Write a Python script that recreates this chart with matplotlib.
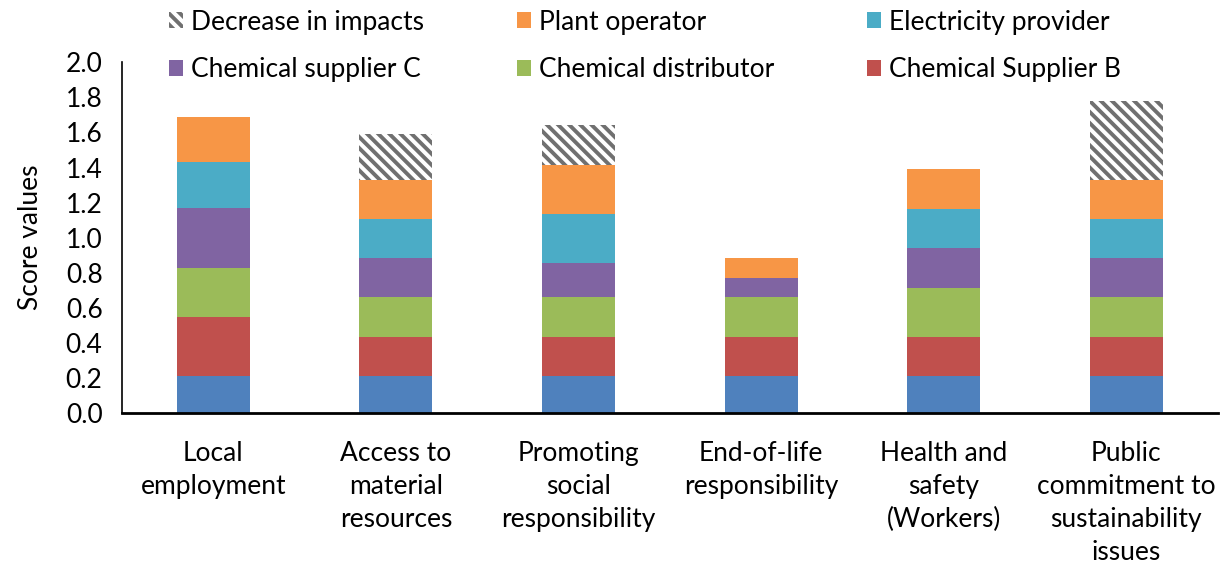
import matplotlib.pyplot as plt
import numpy as np

plt.rcParams['font.family'] = ['Lato', 'DejaVu Sans']
plt.rcParams['hatch.linewidth'] = 2.8

categories = ["Local\nemployment", "Access to\nmaterial\nresources", "Promoting\nsocial\nresponsibility",
              "End-of-life\nresponsibility", "Health and\nsafety\n(Workers)",
              "Public\ncommitment to\nsustainability\nissues"]

base_a = [0.21, 0.21, 0.21, 0.21, 0.21, 0.21]
supplier_b = [0.34, 0.225, 0.225, 0.225, 0.225, 0.225]
distributor = [0.28, 0.225, 0.225, 0.225, 0.28, 0.225]
supplier_c = [0.34, 0.225, 0.195, 0.11, 0.225, 0.225]
electricity = [0.26, 0.22, 0.28, 0.0, 0.225, 0.22]
plant = [0.26, 0.225, 0.28, 0.115, 0.225, 0.225]
decrease = [0.0, 0.26, 0.225, 0.0, 0.0, 0.45]

series = [
    (base_a, None, "#4F81BD"),
    (supplier_b, "Chemical Supplier B", "#C0504D"),
    (distributor, "Chemical distributor", "#9BBB59"),
    (supplier_c, "Chemical supplier C", "#8064A2"),
    (electricity, "Electricity provider", "#4BACC6"),
    (plant, "Plant operator", "#F79646"),
]

fig = plt.figure(figsize=(12.2, 5.66), dpi=100)
ax = fig.add_axes([0.1, 0.27, 0.898, 0.62])

x = np.arange(len(categories))
bottom = np.zeros(len(categories))
handles = {}
for vals, label, color in series:
    b = ax.bar(x, vals, 0.4, bottom=bottom, color=color, linewidth=0)
    if label:
        handles[label] = b
    bottom += np.array(vals)

b = ax.bar(x, decrease, 0.4, bottom=bottom, color="white", edgecolor="#707070",
           hatch="\\\\\\", linewidth=0)
handles["Decrease in impacts"] = b

ax.set_xlim(-0.5, 5.5)
ax.set_ylim(0, 2.0)
ax.set_yticks(np.arange(0, 2.01, 0.2))
ax.set_yticklabels([f"{v:.1f}" for v in np.arange(0, 2.01, 0.2)])
ax.set_xticks(x)
ax.set_xticklabels(categories, linespacing=1.4)
ax.tick_params(axis="both", length=0, labelsize=19)
ax.tick_params(axis="x", pad=20)
ax.tick_params(axis="y", pad=14)
for s in ["top", "right"]:
    ax.spines[s].set_visible(False)
ax.spines["left"].set_linewidth(1.2)
ax.spines["bottom"].set_linewidth(2)
ax.set_ylabel("Score values", fontsize=19, labelpad=16)

order = ["Decrease in impacts", "Chemical supplier C", "Plant operator",
         "Chemical distributor", "Electricity provider", "Chemical Supplier B"]
fig.legend([handles[k] for k in order], order, ncol=3, loc="upper left",
           bbox_to_anchor=(0.119, 1.025), frameon=False, fontsize=19,
           handlelength=0.55, handleheight=0.55, handletextpad=0.3,
           columnspacing=3.5, labelspacing=0.85)

fig.savefig("out.png", dpi=100)
